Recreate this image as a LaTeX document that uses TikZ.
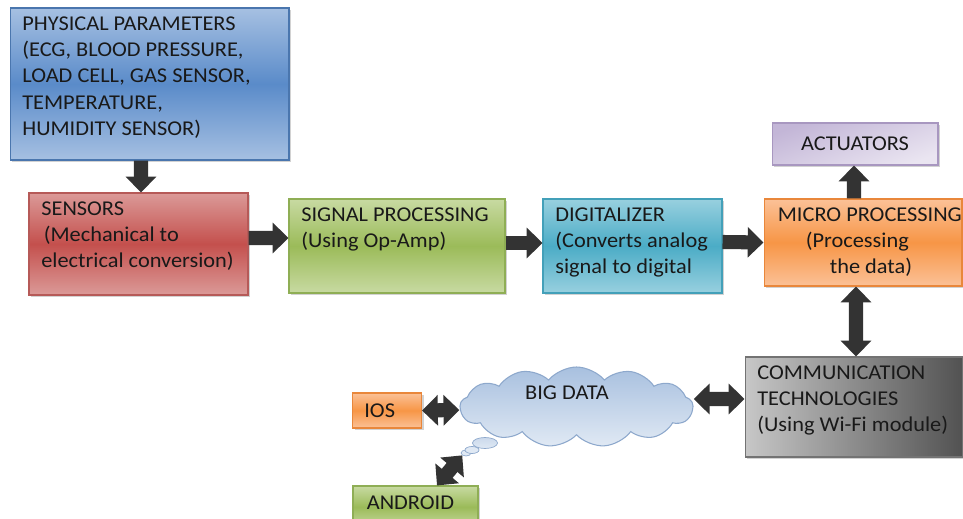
\documentclass[tikz,border=0pt]{standalone}
\usepackage{fontspec}
\setmainfont[FakeStretch=1.06]{Carlito}
\usetikzlibrary{arrows.meta,shapes.symbols,shapes.geometric,shadows}

\definecolor{phyB}{HTML}{4A76AE}\definecolor{phyM}{HTML}{5A8BC9}\definecolor{phyL}{HTML}{A6C0E2}
\definecolor{senB}{HTML}{B65A58}\definecolor{senM}{HTML}{C4504D}\definecolor{senL}{HTML}{DB9A98}
\definecolor{sigB}{HTML}{8FAE55}\definecolor{sigM}{HTML}{9BBB59}\definecolor{sigL}{HTML}{C8DAA2}
\definecolor{digB}{HTML}{43A0B9}\definecolor{digM}{HTML}{4BACC6}\definecolor{digL}{HTML}{98D0DF}
\definecolor{micB}{HTML}{E9873B}\definecolor{micM}{HTML}{F79646}\definecolor{micL}{HTML}{FBC197}
\definecolor{actB}{HTML}{A897C0}\definecolor{actM}{HTML}{C3B6D7}\definecolor{actL}{HTML}{EAE5F1}
\definecolor{cloudB}{HTML}{8DA8CC}\definecolor{cloudT}{HTML}{A8C0DF}\definecolor{cloudL}{HTML}{E0E9F4}

\tikzset{
  blk/.style n args={3}{rectangle, draw=#1, line width=0.6pt, top color=#3, bottom color=#3, middle color=#2,
    drop shadow={shadow xshift=1.3pt, shadow yshift=-1.3pt, opacity=0.35}},
  txt/.style={align=left, inner sep=0pt, text=black!90},
  inset/.style={txt, anchor=north west, xshift=0.25cm, yshift=-0.17cm},
  blkarr/.style={draw=black!80, line width=8pt, -{Triangle[length=9pt, width=17pt]}},
  dblarr/.style={draw=black!80, line width=8pt, {Triangle[length=9pt, width=17pt]}-{Triangle[length=9pt, width=17pt]}},
}

\begin{document}
\begin{tikzpicture}[x=0.02cm, y=-0.02cm, font=\fontsize{12}{15}\selectfont]
\clip (0,0) rectangle (963,519);
\fill[white] (0,0) rectangle (963,519);

% blocks of the chain
\node[blk={phyB}{phyM}{phyL}, minimum width=5.58cm, minimum height=3.04cm,
  label={[inset]north west:PHYSICAL PARAMETERS\\(ECG, BLOOD PRESSURE,\\LOAD CELL, GAS SENSOR,\\TEMPERATURE,\\HUMIDITY SENSOR)}] (phys) at (149.5,84) {};
\node[blk={senB}{senM}{senL}, minimum width=4.38cm, minimum height=2.04cm,
  label={[inset]north west:SENSORS\\\hspace*{0.05cm}(Mechanical to\\electrical conversion)}] (sens) at (138.5,244) {};
\node[blk={sigB}{sigM}{sigL}, minimum width=4.32cm, minimum height=1.88cm,
  label={[inset]north west:SIGNAL PROCESSING\\(Using Op-Amp)}] (sig) at (397,246) {};
\node[blk={digB}{digM}{digL}, minimum width=3.58cm, minimum height=1.88cm,
  label={[inset]north west:DIGITALIZER\\(Converts analog\\signal to digital}] (dig) at (632.5,246) {};
\node[blk={micB}{micM}{micL}, minimum width=3.96cm, minimum height=1.74cm,
  label={[inset, xshift=0.03cm]north west:MICRO PROCESSING\\\hspace*{0.56cm}(Processing\\\hspace*{1.04cm}the data)}] (micro) at (863,242.5) {};
\node[rectangle, draw=actB, line width=0.6pt, top color=actM, bottom color=actL, shading angle=20,
  drop shadow={shadow xshift=1.3pt, shadow yshift=-1.3pt, opacity=0.35},
  minimum width=3.32cm, minimum height=0.84cm, text=black!90] (act) at (855,144) {ACTUATORS};
\node[rectangle, draw=black!55, line width=0.6pt, left color=black!22, right color=black!68,
  drop shadow={shadow xshift=1.3pt, shadow yshift=-1.3pt, opacity=0.35},
  minimum width=4.36cm, minimum height=2cm,
  label={[inset]north west:COMMUNICATION\\TECHNOLOGIES\\(Using Wi-Fi module)}] (comm) at (854,407) {};

% cloud and its bubbles
\node[ellipse, draw=cloudB, fill=cloudL, minimum width=0.2cm, minimum height=0.12cm, inner sep=0pt] (bub3) at (466,453) {};
\node[ellipse, draw=cloudB, fill=cloudL, minimum width=0.28cm, minimum height=0.14cm, inner sep=0pt] (bub2) at (472,450) {};
\node[ellipse, draw=cloudB, top color=cloudT!60, bottom color=cloudL, minimum width=0.5cm, minimum height=0.22cm, inner sep=0pt] (bub1) at (485,443) {};
\node[cloud, cloud puffs=13, cloud puff arc=100, aspect=3, draw=cloudB, line width=0.6pt,
  top color=cloudT, bottom color=cloudL, minimum width=4.66cm, minimum height=1.6cm, inner sep=0pt,
  label={[txt, anchor=center, xshift=-0.19cm, yshift=0.28cm]center:BIG DATA}] (cloud) at (576.5,407) {};

\node[blk={micB}{micM}{micL}, minimum width=1.38cm, minimum height=0.7cm,
  label={[txt, anchor=west, xshift=0.24cm]west:IOS}] (ios) at (387,410.5) {};
\node[blk={sigB}{sigM}{sigL}, minimum width=2.5cm, minimum height=0.84cm,
  label={[txt, anchor=west, xshift=0.28cm, yshift=0.08cm]west:ANDROID}] (andr) at (415.5,507) {};

% arrows
\draw[blkarr] ([xshift=-0.17cm]phys.south) -- ([xshift=0.05cm]sens.north);
\draw[blkarr] ([yshift=0.12cm]sens.east) -- ([yshift=0.16cm]sig.west);
\draw[blkarr] ([yshift=0.06cm]sig.east) -- ([yshift=0.06cm]dig.west);
\draw[blkarr] ([yshift=0.08cm]dig.east) -- (micro.west);
\draw[blkarr] ([xshift=-0.18cm]micro.north) -- ([xshift=-0.02cm]act.south);
\draw[dblarr] ([xshift=-0.14cm]micro.south) -- ([xshift=0.04cm]comm.north);
\draw[dblarr] ([yshift=0.16cm]cloud.east) -- ([yshift=0.16cm]comm.west);
\draw[dblarr] (ios.east) -- ([yshift=-0.06cm]cloud.west);
\draw[dblarr] ([xshift=0.43cm]andr.north) -- (bub3.south west);
\end{tikzpicture}
\end{document}
